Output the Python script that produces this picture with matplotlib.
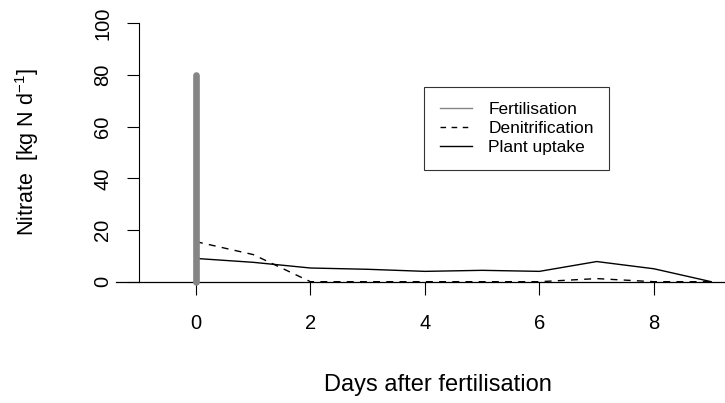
import matplotlib
matplotlib.use("Agg")
import matplotlib.pyplot as plt
from matplotlib.lines import Line2D

plt.rcParams['font.family'] = ['Liberation Sans', 'DejaVu Sans']
plt.rcParams['mathtext.default'] = 'regular'

# data
days = [0, 1, 2, 3, 4, 5, 6, 7, 8, 9]
denitrification = [15.5, 10.5, 0, 0, 0, 0, 0, 1.2, 0, 0]
plant_uptake = [9.0, 7.5, 5.3, 4.8, 4.0, 4.4, 4.0, 7.8, 5.0, 0]
fert_day = [0, 0]
fert_amount = [0, 80]

xticks = [0, 2, 4, 6, 8]
yticks = [0, 20, 40, 60, 80, 100]

W, H = 725, 403
fig = plt.figure(figsize=(W / 100, H / 100), dpi=100)
ax = fig.add_axes([115.8 / W, 121.3 / H, 618.3 / W, 258.4 / H])

gray = '#858585'
ax.axhline(0, color='black', lw=0.9, zorder=1, clip_on=False)
ax.plot(fert_day, fert_amount, color=gray, lw=4.8, solid_capstyle='round',
        clip_on=False, zorder=3)
ax.plot(days, denitrification, color='black', lw=1.0, dashes=(5, 4.5), zorder=2,
        clip_on=False)
ax.plot(days, plant_uptake, color='black', lw=1.0, zorder=2, clip_on=False)

ax.set_xlim(-1.4, 9.4)
ax.set_ylim(0, 100)
for s in ['top', 'right', 'bottom']:
    ax.spines[s].set_visible(False)
ax.spines['left'].set_position(('data', -1))
ax.spines['left'].set_bounds(0, 100)
ax.spines['left'].set_linewidth(0.8)

ax.set_xticks(xticks)
ax.set_yticks(yticks)
ax.tick_params(axis='x', direction='out', length=9, width=0.8, pad=14, labelsize=14.5)
ax.tick_params(axis='y', direction='out', length=9, width=0.8, pad=10, labelsize=14.5)
plt.setp(ax.get_yticklabels(), rotation=90, va='center')

fig.text(437.5 / W, 1 - 385 / H, 'Days after fertilisation', ha='center', va='center', fontsize=17)
fig.text(27 / W, 1 - 152.5 / H, r'Nitrate  [kg N d$^{-1}$]', ha='center', va='center',
         rotation=90, fontsize=15.5)

handles = [Line2D([], [], color=gray, lw=1.0),
           Line2D([], [], color='black', lw=1.0, dashes=(4, 4)),
           Line2D([], [], color='black', lw=1.0)]
leg = ax.legend(handles, ['Fertilisation', 'Denitrification', 'Plant uptake'],
                loc='upper left', bbox_to_anchor=(424 / W, 1 - 86.7 / H),
                bbox_transform=fig.transFigure, fontsize=12.5, frameon=True,
                fancybox=False, handlelength=1.85, handletextpad=0.95,
                labelspacing=0.2, borderpad=0.9, borderaxespad=0)
leg.get_frame().set_edgecolor('black')
leg.get_frame().set_linewidth(0.8)

fig.savefig('out.png', dpi=100)
